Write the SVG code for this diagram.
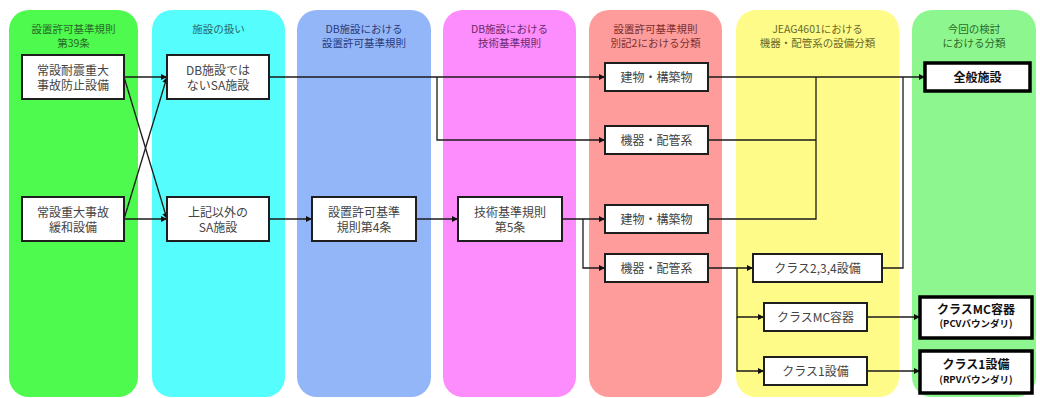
<svg xmlns="http://www.w3.org/2000/svg" width="1040" height="398" viewBox="0 0 1040 398">
<defs>
<marker id="arr" viewBox="0 0 10 10" refX="10" refY="5" markerWidth="7" markerHeight="6" markerUnits="userSpaceOnUse" orient="auto"><path d="M0,0 L10,5 L0,10 z" fill="#111"/></marker>
</defs>
<style>
.hdr{font-family:"Noto Sans CJK JP","Noto Sans",sans-serif;font-size:10.5px;text-anchor:middle}
.box{fill:#fff;stroke:#1e1e1e;stroke-width:2}
.bbox{fill:#fff;stroke:#000;stroke-width:3.5}
.t{font-family:"Noto Sans CJK JP","Noto Sans",sans-serif;font-size:12px;fill:#444;text-anchor:middle}
.tb{font-family:"Noto Sans CJK JP","Noto Sans",sans-serif;font-size:12px;font-weight:bold;fill:#111;text-anchor:middle}
.ts{font-family:"Noto Sans CJK JP","Noto Sans",sans-serif;font-size:9.5px;font-weight:bold;fill:#111;text-anchor:middle}
.c{fill:none;stroke:#1a1a1a;stroke-width:1.3}
.a{marker-end:url(#arr)}
</style>
<g id="lanes">
<rect x="9" y="10" width="129" height="387" rx="20" fill="#4dfa4d"/>
<rect x="152" y="10" width="133" height="387" rx="20" fill="#55fdfd"/>
<rect x="297" y="10" width="134" height="387" rx="20" fill="#93b6f8"/>
<rect x="443" y="10" width="133" height="387" rx="20" fill="#fd8cfd"/>
<rect x="589" y="10" width="133" height="387" rx="20" fill="#fe9c9c"/>
<rect x="736" y="10" width="163" height="387" rx="20" fill="#fefb89"/>
<rect x="912" y="10" width="124" height="387" rx="20" fill="#8ef68e"/>
<text class="hdr" fill="#2a6a2a" x="73.5" y="33">設置許可基準規則</text>
<text class="hdr" fill="#2a6a2a" x="73.5" y="47">第39条</text>
<text class="hdr" fill="#2a6a6a" x="218.5" y="33">施設の扱い</text>
<text class="hdr" fill="#2a3a7a" x="364" y="33">DB施設における</text>
<text class="hdr" fill="#2a3a7a" x="364" y="47">設置許可基準規則</text>
<text class="hdr" fill="#6a2a6a" x="509.5" y="33">DB施設における</text>
<text class="hdr" fill="#6a2a6a" x="509.5" y="47">技術基準規則</text>
<text class="hdr" fill="#7a3030" x="655.5" y="33">設置許可基準規則</text>
<text class="hdr" fill="#7a3030" x="655.5" y="47">別記2における分類</text>
<text class="hdr" fill="#6a6a2a" x="817.5" y="33">JEAG4601における</text>
<text class="hdr" fill="#6a6a2a" x="817.5" y="47">機器・配管系の設備分類</text>
<text class="hdr" fill="#2a6a2a" x="974" y="33">今回の検討</text>
<text class="hdr" fill="#2a6a2a" x="974" y="47">における分類</text>
</g>
<g id="connectors">
<path class="c a" d="M124,77 H167"/>
<path class="c a" d="M124,77 L167,219"/>
<path class="c a" d="M124,219 L167,77"/>
<path class="c a" d="M124,219 H167"/>
<path class="c a" d="M269,77 H605"/>
<path class="c a" d="M437,77 V140 H605"/>
<path class="c a" d="M269,219 H312"/>
<path class="c a" d="M416,219 H458"/>
<path class="c a" d="M562,219 H605"/>
<path class="c a" d="M583,219 V268 H605"/>
<path class="c a" d="M708,77 H925"/>
<path class="c" d="M708,140 H816"/>
<path class="c" d="M708,219 H816 V77"/>
<path class="c" d="M882,268 H903 V77"/>
<path class="c a" d="M708,268 H753"/>
<path class="c a" d="M737,268 V317 H764"/>
<path class="c a" d="M737,317 V371 H764"/>
<path class="c a" d="M867,317 H920"/>
<path class="c a" d="M867,371 H920"/>
</g>
<g id="nodeA"><rect class="box" x="22" y="55" width="102" height="44"/><text class="t" x="73" y="74.5">常設耐震重大</text><text class="t" x="73" y="89.5">事故防止設備</text></g>
<g id="nodeB"><rect class="box" x="167" y="55" width="102" height="44"/><text class="t" x="218" y="74.5">DB施設では</text><text class="t" x="218" y="89.5">ないSA施設</text></g>
<g id="nodeC"><rect class="box" x="22" y="197" width="102" height="44"/><text class="t" x="73" y="216.5">常設重大事故</text><text class="t" x="73" y="231.5">緩和設備</text></g>
<g id="nodeD"><rect class="box" x="167" y="197" width="102" height="44"/><text class="t" x="218" y="216.5">上記以外の</text><text class="t" x="218" y="231.5">SA施設</text></g>
<g id="nodeE"><rect class="box" x="312" y="197" width="104" height="44"/><text class="t" x="364" y="216.5">設置許可基準</text><text class="t" x="364" y="231.5">規則第4条</text></g>
<g id="nodeF"><rect class="box" x="458" y="197" width="104" height="44"/><text class="t" x="510" y="216.5">技術基準規則</text><text class="t" x="510" y="231.5">第5条</text></g>
<g id="nodeG"><rect class="box" x="605" y="63" width="103" height="28"/><text class="t" x="656.5" y="81.5">建物・構築物</text></g>
<g id="nodeH"><rect class="box" x="605" y="126" width="103" height="28"/><text class="t" x="656.5" y="144.5">機器・配管系</text></g>
<g id="nodeI"><rect class="box" x="605" y="205" width="103" height="28"/><text class="t" x="656.5" y="223.5">建物・構築物</text></g>
<g id="nodeJ"><rect class="box" x="605" y="254" width="103" height="28"/><text class="t" x="656.5" y="272.5">機器・配管系</text></g>
<g id="nodeK"><rect class="box" x="753" y="254" width="129" height="28"/><text class="t" x="817.5" y="272.5">クラス2,3,4設備</text></g>
<g id="nodeL"><rect class="box" x="764" y="303" width="103" height="28"/><text class="t" x="815.5" y="321.5">クラスMC容器</text></g>
<g id="nodeM"><rect class="box" x="764" y="357" width="103" height="28"/><text class="t" x="815.5" y="375.5">クラス1設備</text></g>
<g id="nodeN"><rect class="bbox" x="925" y="63" width="105" height="28"/><text class="tb" x="977.5" y="81.5">全般施設</text></g>
<g id="nodeO"><rect class="bbox" x="920" y="297" width="112" height="41"/><text class="tb" x="976" y="313.5">クラスMC容器</text><text class="ts" x="976" y="327">(PCVバウンダリ)</text></g>
<g id="nodeP"><rect class="bbox" x="920" y="351" width="112" height="42"/><text class="tb" x="976" y="368.5">クラス1設備</text><text class="ts" x="976" y="382.5">(RPVバウンダリ)</text></g>
</svg>
